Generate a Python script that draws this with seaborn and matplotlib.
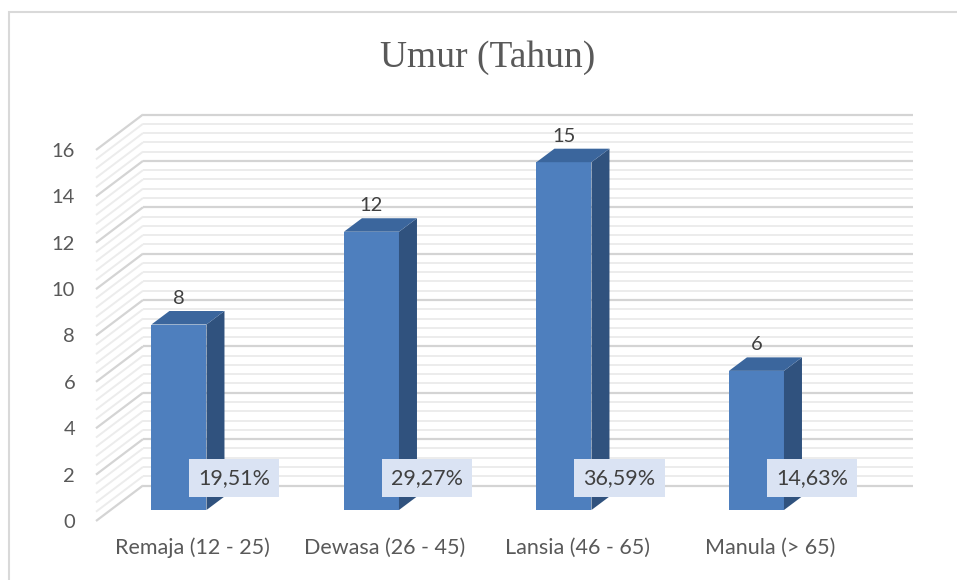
import numpy as np
import pandas as pd
import matplotlib
matplotlib.use("Agg")
import matplotlib.pyplot as plt
from matplotlib.patches import Polygon, Rectangle
import seaborn as sns

# data
categories = ["Remaja (12 - 25)", "Dewasa (26 - 45)", "Lansia (46 - 65)", "Manula (> 65)"]
counts = [8, 12, 15, 6]
percent_labels = ["19,51%", "29,27%", "36,59%", "14,63%"]
y_ticks = [0, 2, 4, 6, 8, 10, 12, 14, 16]

df = pd.DataFrame({"kategori": categories, "jumlah": counts})

sns.set_theme(style="white")
plt.rcParams["font.family"] = ["Lato", "DejaVu Sans"]

front_col = "#4e7fbe"
top_col = "#3b669d"
side_col = "#30527e"
grid_major = "#d4d4d4"
grid_minor = "#ececec"
text_col = "#595959"

W, H = 957, 580
fig = plt.figure(figsize=(W / 100, H / 100), dpi=100, facecolor="white")
# axes = front plane of the 3d box
ax = fig.add_axes([96 / W, (H - 521) / H, 770 / W, 371 / H])

sns.barplot(data=df, x="kategori", y="jumlah", color=front_col, saturation=1,
            width=0.286, linewidth=0, ax=ax, zorder=3)
ax.set_xlim(-0.5, 3.5)
ax.set_ylim(0, 16)

# pixels per data unit
sx = ax.bbox.width / 4.0
sy = ax.bbox.height / 16.0


def px(dx, dy):
    return dx / sx, dy / sy


wx, wy = px(47, 35.5)      # depth of the walls
bx, by = px(-13.3, 11)     # bar front plane shift
dx, dy = px(18, 13.5)      # bar depth

# back wall and side wall grid
for v in np.arange(0, 16.01, 0.4):
    major = abs(v / 2 - round(v / 2)) < 1e-6
    c = grid_major if major else grid_minor
    lw = 1.6 if major else 1.4
    z = 1.5 if major else 1
    ax.plot([-0.5 + wx, 3.5 + wx], [v + wy, v + wy], color=c, lw=lw,
            clip_on=False, zorder=z, solid_capstyle="butt")
    ax.plot([-0.5, -0.5 + wx], [v, v + wy], color=c, lw=lw,
            clip_on=False, zorder=z, solid_capstyle="butt")

# give the bars some depth
for bar, val, pct in zip(ax.patches, counts, percent_labels):
    x0 = bar.get_x() + bx
    w = bar.get_width()
    x1 = x0 + w
    bar.set_x(x0)
    bar.set_y(by)
    bar.set_clip_on(False)
    y0, y1 = by, by + val
    side = Polygon([(x1, y0), (x1, y1), (x1 + dx, y1 + dy), (x1 + dx, y0 + dy)],
                   closed=True, facecolor=side_col, edgecolor="none",
                   clip_on=False, zorder=3)
    top = Polygon([(x0, y1), (x1, y1), (x1 + dx, y1 + dy), (x0 + dx, y1 + dy)],
                  closed=True, facecolor=top_col, edgecolor="none",
                  clip_on=False, zorder=3)
    ax.add_patch(side)
    ax.add_patch(top)

    xc = x0 + w / 2
    ax.text(xc, y1 + px(0, 26)[1], str(val), ha="center", va="center",
            fontsize=14.5, color="#404040", zorder=5, clip_on=False)
    ax.text(xc + px(55.5, 0)[0], by + px(0, 32)[1], pct, ha="center", va="center",
            fontsize=15.5, color="#404040", zorder=5, clip_on=False,
            bbox=dict(boxstyle="square,pad=0.42", facecolor="#dae3f3", edgecolor="none"))

ax.set_yticks(y_ticks)
ax.set_yticklabels([str(t) for t in y_ticks])
ax.tick_params(axis="y", length=0, pad=15, labelsize=14.5, labelcolor=text_col)
ax.tick_params(axis="x", length=0, pad=12, labelsize=15.5, labelcolor=text_col)
ax.set_xlabel("")
ax.set_ylabel("")
ax.grid(False)
ax.set_facecolor("none")
for s in ax.spines.values():
    s.set_visible(False)

fig.text(488 / W, 1 - 66.7 / H, "Umur (Tahun)", ha="center", va="baseline",
         fontsize=27, color=text_col, family=["Liberation Serif", "DejaVu Serif"])

# chart area border (runs off the right and bottom edge)
fig.add_artist(Rectangle((9 / W, -0.1), 1.2, 1.1 - 12 / H, transform=fig.transFigure,
                         fill=False, edgecolor="#d9d9d9", lw=1.5))

fig.savefig("out.png", dpi=100)
